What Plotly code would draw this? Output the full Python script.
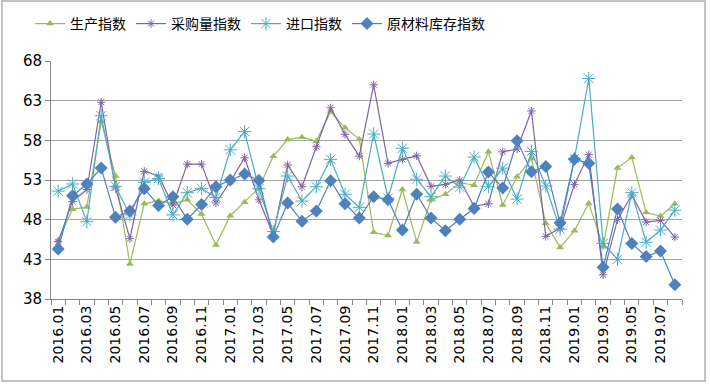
import plotly.graph_objects as go

months = ["2016.01","2016.02","2016.03","2016.04","2016.05","2016.06","2016.07","2016.08","2016.09","2016.10","2016.11","2016.12",
          "2017.01","2017.02","2017.03","2017.04","2017.05","2017.06","2017.07","2017.08","2017.09","2017.10","2017.11","2017.12",
          "2018.01","2018.02","2018.03","2018.04","2018.05","2018.06","2018.07","2018.08","2018.09","2018.10","2018.11","2018.12",
          "2019.01","2019.02","2019.03","2019.04","2019.05","2019.06","2019.07","2019.08"]

production = [45.4, 49.3, 49.6, 60.4, 53.5, 42.4, 50.0, 50.4, 50.0, 50.5, 48.7, 44.8,
              48.5, 50.2, 52.0, 56.0, 58.1, 58.4, 57.9, 61.6, 59.6, 58.15, 46.4, 46.0,
              51.8, 45.2, 50.5, 51.2, 52.65, 52.35, 56.55, 49.85, 53.4, 55.7, 47.55, 44.5,
              46.6, 50.05, 44.6, 54.5, 55.85, 48.9, 48.45, 50.0]

purchase = [45.2, 50.3, 51.8, 62.8, 52.0, 45.6, 54.1, 53.5, 49.85, 55.0, 55.0, 50.1,
            52.8, 55.8, 50.5, 46.1, 54.9, 52.15, 57.2, 62.1, 58.75, 56.0, 65.0, 55.1,
            55.6, 56.05, 52.2, 52.45, 53.0, 49.7, 50.0, 56.55, 56.9, 61.7, 45.9, 46.9,
            52.45, 56.2, 41.05, 48.0, 51.1, 47.7, 47.9, 45.8]

imports = [51.6, 52.5, 47.75, 61.1, 52.2, 48.6, 52.7, 53.2, 48.6, 51.4, 51.95, 50.8,
           56.8, 59.1, 51.9, 46.5, 53.5, 50.35, 52.15, 55.6, 51.2, 49.55, 58.8, 50.7,
           57.0, 53.1, 50.9, 53.5, 52.1, 55.9, 52.15, 54.5, 50.6, 56.6, 52.25, 46.8,
           55.7, 65.8, 45.0, 43.0, 51.4, 45.15, 46.7, 49.2]

inventory = [44.3, 51.0, 52.5, 54.5, 48.3, 49.1, 51.9, 49.8, 50.9, 48.05, 49.9, 52.15,
             53.0, 53.75, 52.95, 45.8, 50.1, 47.8, 49.1, 52.9, 50.0, 48.2, 50.9, 50.5,
             46.7, 51.2, 48.2, 46.6, 48.05, 49.4, 54.0, 52.0, 57.95, 54.05, 54.7, 47.6,
             55.6, 55.1, 42.0, 49.35, 45.0, 43.35, 44.05, 39.8]

y_ticks = [38, 43, 48, 53, 58, 63, 68]

names = ["生产指数", "采购量指数", "进口指数", "原材料库存指数"]
colors = ["#9BBB59", "#8064A2", "#4BACC6", "#4F81BD"]

x = list(range(len(months)))

fig = go.Figure()
fig.add_trace(go.Scatter(x=x, y=production, name=names[0], mode="lines+markers",
                         line=dict(color=colors[0], width=1.2),
                         marker=dict(symbol="triangle-up", size=7, color=colors[0])))
fig.add_trace(go.Scatter(x=x, y=purchase, name=names[1], mode="lines+markers",
                         line=dict(color=colors[1], width=1.2),
                         marker=dict(symbol="asterisk-open", size=7, color=colors[1],
                                     line=dict(color=colors[1], width=1))))
fig.add_trace(go.Scatter(x=x, y=imports, name=names[2], mode="lines+markers",
                         line=dict(color=colors[2], width=1.2),
                         marker=dict(symbol="asterisk-open", size=11, color=colors[2],
                                     line=dict(color=colors[2], width=1))))
fig.add_trace(go.Scatter(x=x, y=inventory, name=names[3], mode="lines+markers",
                         line=dict(color=colors[3], width=1.2),
                         marker=dict(symbol="diamond", size=10, color=colors[3])))

L, R, T, B = 51, 28, 61, 87
W, H = 710, 386
pw, ph = W - L - R, H - T - B

def px_x(p):
    return (p - L) / pw

def px_y(p):
    return (H - B - p) / ph

fig.update_layout(
    width=W, height=H,
    margin=dict(l=L, r=R, t=T, b=B),
    paper_bgcolor="white", plot_bgcolor="white",
    font=dict(family="DejaVu Sans", color="black"),
    showlegend=True,
    legend=dict(orientation="h", xref="container", yref="container",
                x=30 / W, xanchor="left", y=1 - 24 / H, yanchor="middle",
                font=dict(family="Noto Sans CJK SC", size=14), itemwidth=30,
                bgcolor="rgba(0,0,0,0)", tracegroupgap=0),
    xaxis=dict(range=[-0.5, len(months) - 0.5], tickmode="array", automargin=False,
               tickvals=x[::2], ticktext=months[::2], tickangle=-90,
               tickfont=dict(family="DejaVu Sans", size=14), ticks="",
               showgrid=False, zeroline=False, showline=True, linecolor="#868686", linewidth=1,
               minor=dict(ticks="outside", tick0=-0.5, dtick=1, ticklen=5, tickcolor="#868686", showgrid=False)),
    yaxis=dict(range=[38, 68], tickmode="array", tickvals=y_ticks, automargin=False,
               tickfont=dict(family="DejaVu Sans", size=15), ticks="outside", ticklen=5,
               tickcolor="#868686", showgrid=True, gridcolor="#a6a6a6", gridwidth=1.3,
               zeroline=False, showline=True, linecolor="#868686", linewidth=1),
    shapes=[dict(type="rect", xref="paper", yref="paper",
                 x0=px_x(2), x1=px_x(705), y0=px_y(381), y1=px_y(1),
                 line=dict(color="#b0b0b0", width=1.5), fillcolor="rgba(0,0,0,0)", layer="below")],
)

fig.write_html("out.html", config={"displayModeBar": False},
               post_script="document.body.style.margin='0';document.body.style.overflow='hidden';")
